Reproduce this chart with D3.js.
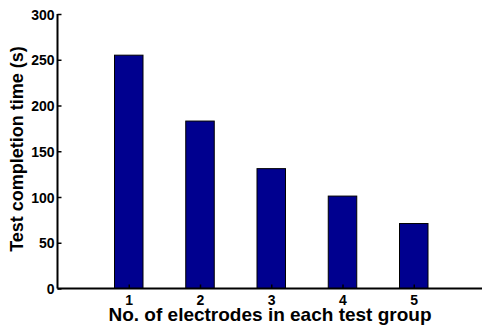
<!DOCTYPE html>
<html><head><meta charset="utf-8">
<script src="https://cdn.jsdelivr.net/npm/d3@7"></script>
<style>
html,body{margin:0;padding:0;background:#fff;}
svg{display:block;}
text{font-family:"Liberation Sans",Arial,Helvetica,sans-serif;font-weight:bold;fill:#000;}
</style></head>
<body><svg id="c" width="482" height="329"></svg>
<script>
const categories = [1, 2, 3, 4, 5];
const values = [255, 183, 131, 101, 71];
const yTicks = [0, 50, 100, 150, 200, 250, 300];
const xLabel = "No. of electrodes in each test group";
const yLabel = "Test completion time (s)";

const svg = d3.select("#c");
const x = d3.scaleLinear().domain([0, 6]).range([57.5, 485]);
const y = d3.scaleLinear().domain([0, 300]).range([288.5, 14]);
const bw = 0.4;

// bars
svg.append("g").selectAll("rect").data(categories).join("rect")
  .attr("x", (d) => x(d - bw / 2))
  .attr("width", (d) => x(d + bw / 2) - x(d - bw / 2))
  .attr("y", (d, i) => y(values[i]))
  .attr("height", (d, i) => y(0) - y(values[i]))
  .attr("fill", "#00008f")
  .attr("stroke", "#000")
  .attr("stroke-width", 1);

const font = "'Liberation Sans',Arial,sans-serif";

// y axis
const yAxis = d3.axisRight(y).tickValues(yTicks).tickSize(4).tickFormat(d3.format("d"));
const gy = svg.append("g").attr("transform", `translate(${x(0)},0)`).call(yAxis)
  .attr("font-family", font).attr("font-size", 14).attr("font-weight", "bold");
gy.select(".domain").attr("d", `M0,${y(300)}V${y(0)}`).attr("stroke-width", 2);
gy.selectAll(".tick line").attr("stroke-width", 1.5);
gy.selectAll(".tick text").attr("x", -3).attr("text-anchor", "end").attr("dy", "0.36em");

// x axis
const xAxis = d3.axisTop(x).tickValues(categories).tickSize(4).tickFormat(d3.format("d"));
const gx = svg.append("g").attr("transform", `translate(0,${y(0)})`).call(xAxis)
  .attr("font-family", font).attr("font-size", 14).attr("font-weight", "bold");
gx.select(".domain").attr("d", `M${x(0)},0H${x(6)}`).attr("stroke-width", 2);
gx.selectAll(".tick line").attr("stroke-width", 1.5);
gx.selectAll(".tick text").attr("y", 16).attr("dy", 0);
gx.raise(); gy.raise();

// labels
svg.append("text").attr("x", 270).attr("y", 321).attr("text-anchor", "middle")
  .style("font-size", "19px").text(xLabel);
svg.append("text").attr("transform", "translate(22.5,149) rotate(-90)").attr("text-anchor", "middle")
  .style("font-size", "18px").text(yLabel);
</script></body></html>
